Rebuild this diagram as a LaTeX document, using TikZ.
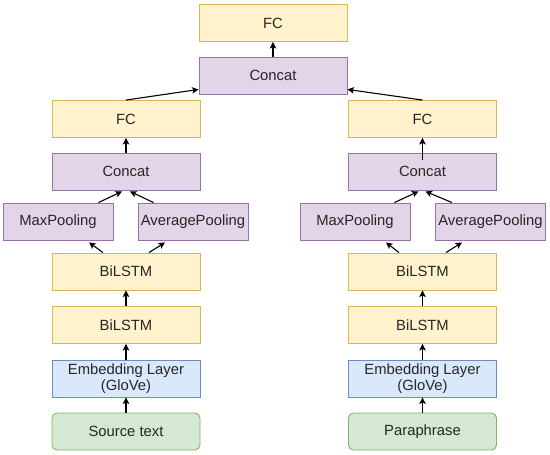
\documentclass[tikz,border=0pt]{standalone}
\usepackage{fontspec}
\setmainfont{Liberation Sans}
\usetikzlibrary{arrows.meta}
\definecolor{yfill}{HTML}{FFF2CC}\definecolor{ydraw}{HTML}{D6B656}
\definecolor{pfill}{HTML}{E1D5E7}\definecolor{pdraw}{HTML}{9673A6}
\definecolor{bfill}{HTML}{DAE8FC}\definecolor{bdraw}{HTML}{6C8EBF}
\definecolor{gfill}{HTML}{D5E8D4}\definecolor{gdraw}{HTML}{82B366}
\definecolor{txt}{HTML}{262626}
\begin{document}
\begin{tikzpicture}[x=1pt,y=-1pt,
  box/.style={draw, line width=0.9pt, minimum width=148pt, minimum height=37pt, inner sep=0pt,
    text=txt, font=\fontsize{14.8}{15.5}\selectfont, align=center},
  ybox/.style={box, fill=yfill, draw=ydraw},
  pbox/.style={box, fill=pfill, draw=pdraw},
  poolbox/.style={pbox, minimum width=110pt},
  bbox/.style={box, fill=bfill, draw=bdraw},
  gbox/.style={box, fill=gfill, draw=gdraw, rounded corners=5pt},
  arr/.style={-{Stealth[length=6.5pt,width=6.5pt,inset=1.5pt]}, line width=1.1pt, black}]
\useasboundingbox (0,0) rectangle (550,455);
% top
\node[ybox] (topfc) at (273,23) {FC};
\node[pbox] (topcat) at (273,75.5) {Concat};
% left column
\node[ybox] (lfc) at (126,119) {FC};
\node[pbox] (lcat) at (126,171.5) {Concat};
\node[poolbox] (lmax) at (58,221.5) {MaxPooling};
\node[poolbox] (lavg) at (193,221.5) {AveragePooling};
\node[ybox] (lb1) at (126,271.5) {BiLSTM};
\node[ybox] (lb2) at (126,325) {BiLSTM};
\node[bbox] (lemb) at (126,378.5) {Embedding Layer\\(GloVe)};
\node[gbox] (lsrc) at (126,431.5) {Source text};
% right column
\node[ybox] (rfc) at (422.5,119) {FC};
\node[pbox] (rcat) at (422.5,171.5) {Concat};
\node[poolbox] (rmax) at (355,221.5) {MaxPooling};
\node[poolbox] (ravg) at (490.5,221.5) {AveragePooling};
\node[ybox] (rb1) at (422.5,271.5) {BiLSTM};
\node[ybox] (rb2) at (422.5,325) {BiLSTM};
\node[bbox] (remb) at (422.5,378.5) {Embedding Layer\\(GloVe)};
\node[gbox] (rpar) at (422.5,431.5) {Paraphrase};
% top arrows
\draw[arr] (topcat.north) -- (topfc.south);
\draw[arr] (lfc.north) -- ([yshift=5pt]topcat.south west);
\draw[arr] (rfc.north) -- ([yshift=5pt]topcat.south east);
% left arrows
\draw[arr] (lcat.north) -- (lfc.south);
\draw[arr] ([xshift=-15pt]lmax.north east) -- ([xshift=-4pt,yshift=-1pt]lcat.south);
\draw[arr] ([xshift=16pt]lavg.north west) -- ([xshift=4pt,yshift=-1pt]lcat.south);
\draw[arr] ([xshift=-23pt]lb1.north) -- ([xshift=31pt,yshift=-2pt]lmax.south);
\draw[arr] ([xshift=23pt]lb1.north) -- ([xshift=-28pt,yshift=-2pt]lavg.south);
\draw[arr] (lb2.north) -- (lb1.south);
\draw[arr] (lemb.north) -- (lb2.south);
\draw[arr] (lsrc.north) -- (lemb.south);
% right arrows
\draw[arr] ([yshift=-7pt]rcat.north) -- (rfc.south);
\draw[arr] ([xshift=-16pt]rmax.north east) -- ([xshift=-4pt,yshift=-1pt]rcat.south);
\draw[arr] ([xshift=17pt]ravg.north west) -- ([xshift=3pt,yshift=-1pt]rcat.south);
\draw[arr] ([xshift=-23.5pt]rb1.north) -- ([xshift=31pt,yshift=-2pt]rmax.south);
\draw[arr] ([xshift=23.5pt]rb1.north) -- ([xshift=-28.5pt,yshift=-2pt]ravg.south);
\draw[arr] (rb2.north) -- (rb1.south);
\draw[arr] (remb.north) -- (rb2.south);
\draw[arr] (rpar.north) -- (remb.south);
\end{tikzpicture}
\end{document}
